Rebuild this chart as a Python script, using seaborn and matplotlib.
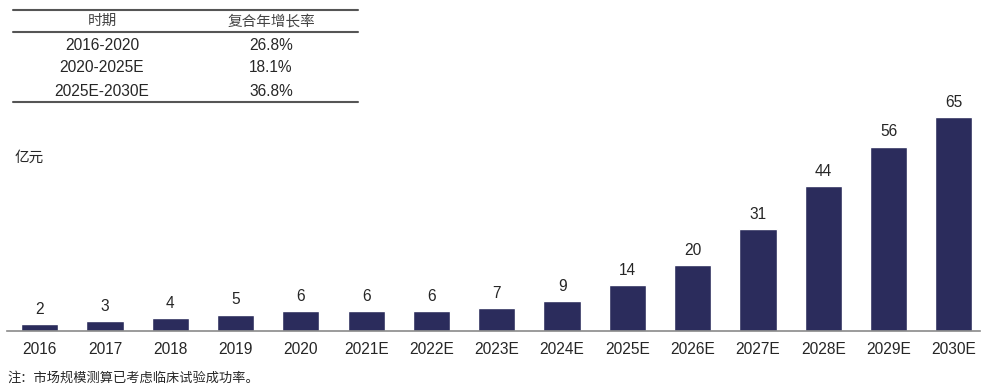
import matplotlib
matplotlib.use("Agg")
import matplotlib.pyplot as plt
import seaborn as sns
import pandas as pd

years = ["2016", "2017", "2018", "2019", "2020", "2021E", "2022E", "2023E",
         "2024E", "2025E", "2026E", "2027E", "2028E", "2029E", "2030E"]
market_size = [2, 3, 4, 5, 6, 6, 6, 7, 9, 14, 20, 31, 44, 56, 65]

periods = ["2016-2020", "2020-2025E", "2025E-2030E"]
cagr = ["26.8%", "18.1%", "36.8%"]
table_header = ["时期", "复合年增长率"]

unit_label = "亿元"
note = "注：市场规模测算已考虑临床试验成功率。"

sns.set_theme(style="white")
plt.rcParams["font.family"] = ["Liberation Sans", "Noto Sans CJK SC", "DejaVu Sans"]

bar_color = "#2b2c5c"
text_color = "#262626"
cjk = ["Noto Sans CJK SC", "DejaVu Sans"]

fig = plt.figure(figsize=(9.81, 3.86), dpi=100)
ax = fig.add_axes([7 / 981, 1 - 331 / 386, 973 / 981, 231 / 386])

df = pd.DataFrame({"year": years, "value": market_size})
sns.barplot(data=df, x="year", y="value", color=bar_color, width=0.57,
            saturation=1, ax=ax)

for i, v in enumerate(market_size):
    ax.text(i, v + 2.2, f"{v}", ha="center", va="bottom", fontsize=11.2,
            color=text_color)

ax.set_xlim(-0.5, 14.4)
ax.set_ylim(0, 70.2)
ax.set_xlabel("")
ax.set_ylabel("")
ax.set_yticks([])
for side in ["top", "right", "left"]:
    ax.spines[side].set_visible(False)
ax.spines["bottom"].set_color("#8a8a8a")
ax.spines["bottom"].set_linewidth(1.2)
ax.tick_params(axis="x", length=0, pad=8, labelsize=11.2, labelcolor=text_color)

# unit label and footnote
fig.text(15 / 981, 1 - 158 / 386, unit_label, fontsize=10.5, color=text_color,
         va="center", ha="left", family=cjk)
fig.text(7 / 981, 1 - 378 / 386, note, fontsize=9.5, color=text_color,
         va="center", ha="left", family=cjk)

# CAGR table at the top left
def fx(px):
    return px / 981

def fy(py):
    return 1 - py / 386

x0, x1 = 13, 358
col_centers = [102, 271]
line_color = "#555555"
for ly in (10, 32, 102):
    fig.add_artist(plt.Line2D([fx(x0), fx(x1)], [fy(ly), fy(ly)],
                              color=line_color, lw=1.5))

for cx, h in zip(col_centers, table_header):
    fig.text(fx(cx), fy(21), h, ha="center", va="center", fontsize=10.5,
             color="#444444", family=cjk)

row_y = [45, 68, 91]
for ry, p, c in zip(row_y, periods, cagr):
    fig.text(fx(col_centers[0]), fy(ry), p, ha="center", va="center",
             fontsize=11.2, color=text_color)
    fig.text(fx(col_centers[1]), fy(ry), c, ha="center", va="center",
             fontsize=11.2, color=text_color)

fig.savefig("out.png", dpi=100)
